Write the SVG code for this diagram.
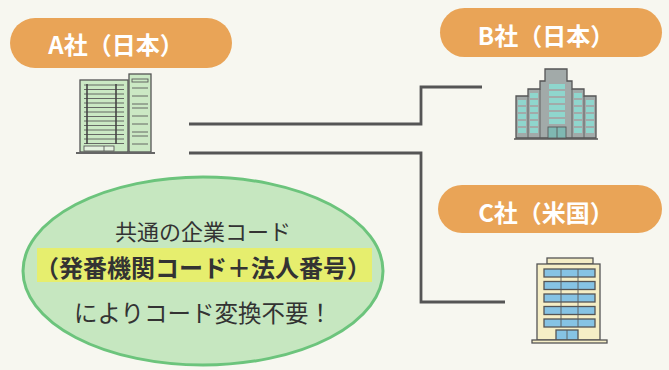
<svg xmlns="http://www.w3.org/2000/svg" width="669" height="370" viewBox="0 0 669 370">
  <style>
    .pill { fill: #e9a457; }
    .pill-label { font-family: "Noto Sans CJK JP", "Noto Sans", sans-serif; font-weight: bold; font-size: 24px; fill: #ffffff; text-anchor: middle; }
    .link { fill: none; stroke: #555555; stroke-width: 2.8; stroke-linejoin: miter; }
    .note { font-family: "Noto Sans CJK JP", "Noto Sans", sans-serif; fill: #333333; text-anchor: middle; }
    .edge { stroke: #555555; stroke-width: 1.3; }
    .thin { stroke: #5a5a5a; stroke-width: 0.9; }
  </style>
  <rect width="669" height="370" fill="#f7f7f0"/>

  <!-- connectors -->
  <g id="connectors">
    <polyline class="link" points="189,124 421,124 421,87 482,87"/>
    <polyline class="link" points="189,153 421,153 421,302 505,302"/>
  </g>

  <!-- company A (Japan) -->
  <g id="node-a">
    <rect class="pill" x="10" y="18" width="222" height="50" rx="25"/>
    <text class="pill-label" x="116" y="54">A社（日本）</text>
    <g id="building-a">
      <rect x="80" y="80" width="48" height="72" fill="#cbe9c4" class="edge"/>
      <g class="thin">
        <line x1="84" y1="85" x2="124" y2="85"/>
        <line x1="84" y1="89.5" x2="124" y2="89.5"/>
        <line x1="84" y1="94" x2="124" y2="94"/>
        <line x1="84" y1="98.5" x2="124" y2="98.5"/>
        <line x1="84" y1="103" x2="124" y2="103"/>
        <line x1="84" y1="107.5" x2="124" y2="107.5"/>
        <line x1="84" y1="112" x2="124" y2="112"/>
        <line x1="84" y1="116.5" x2="124" y2="116.5"/>
        <line x1="84" y1="121" x2="124" y2="121"/>
        <line x1="84" y1="125.5" x2="124" y2="125.5"/>
        <line x1="84" y1="130" x2="124" y2="130"/>
        <line x1="84" y1="134.5" x2="124" y2="134.5"/>
        <line x1="84" y1="139" x2="124" y2="139"/>
        <line x1="84" y1="143.5" x2="124" y2="143.5"/>
      </g>
      <line x1="87" y1="84" x2="87" y2="144" stroke="#444" stroke-width="1.6"/>
      <line x1="116" y1="84" x2="116" y2="144" stroke="#444" stroke-width="1.6"/>
      <rect x="84" y="146" width="30" height="5" fill="#e4f2df" class="thin"/>
      <line x1="104" y1="146" x2="104" y2="151" class="thin"/>
      <rect x="129" y="74" width="22" height="78" fill="#cbe9c4" class="edge"/>
      <g class="thin">
        <rect x="132" y="79" width="16" height="3" fill="none"/>
        <line x1="132" y1="88" x2="148" y2="88"/>
        <line x1="132" y1="96" x2="148" y2="96"/>
        <line x1="132" y1="104" x2="148" y2="104"/>
        <line x1="132" y1="108" x2="148" y2="108"/>
        <line x1="132" y1="116" x2="148" y2="116"/>
        <line x1="132" y1="124" x2="148" y2="124"/>
        <line x1="132" y1="132" x2="148" y2="132"/>
        <line x1="132" y1="136" x2="148" y2="136"/>
        <line x1="132" y1="144" x2="148" y2="144"/>
      </g>
      <line x1="76" y1="153" x2="155" y2="153" stroke="#666" stroke-width="2"/>
    </g>
  </g>

  <!-- company B (Japan) -->
  <g id="node-b">
    <rect class="pill" x="440" y="8" width="222" height="49" rx="24.5"/>
    <text class="pill-label" x="546" y="45">B社（日本）</text>
    <g id="building-b">
      <polygon points="516,138 516,96 528,96 528,89 540,89 540,81 545,81 545,69 567,69 567,81 572,81 572,89 584,89 584,96 596,96 596,138" fill="#a2aaa9" class="edge"/>
      <line x1="540" y1="89" x2="540" y2="138" class="thin"/>
      <line x1="572" y1="89" x2="572" y2="138" class="thin"/>
      <line x1="528" y1="96" x2="528" y2="138" class="thin"/>
      <line x1="584" y1="96" x2="584" y2="138" class="thin"/>
      <g fill="#8fd6cd">
        <!-- centre column -->
        <rect x="549" y="84" width="16" height="5"/>
        <rect x="549" y="91" width="16" height="5"/>
        <rect x="549" y="98" width="16" height="5"/>
        <rect x="549" y="105" width="16" height="5"/>
        <rect x="549" y="112" width="16" height="5"/>
        <rect x="549" y="119" width="16" height="5"/>
        <!-- inner wings -->
        <rect x="530" y="93" width="8" height="5"/>
        <rect x="530" y="100" width="8" height="5"/>
        <rect x="530" y="107" width="8" height="5"/>
        <rect x="530" y="114" width="8" height="5"/>
        <rect x="530" y="121" width="8" height="5"/>
        <rect x="530" y="128" width="8" height="5"/>
        <rect x="574" y="93" width="8" height="5"/>
        <rect x="574" y="100" width="8" height="5"/>
        <rect x="574" y="107" width="8" height="5"/>
        <rect x="574" y="114" width="8" height="5"/>
        <rect x="574" y="121" width="8" height="5"/>
        <rect x="574" y="128" width="8" height="5"/>
        <!-- outer wings -->
        <rect x="518" y="100" width="8" height="5"/>
        <rect x="518" y="107" width="8" height="5"/>
        <rect x="518" y="114" width="8" height="5"/>
        <rect x="518" y="121" width="8" height="5"/>
        <rect x="518" y="128" width="8" height="5"/>
        <rect x="586" y="100" width="8" height="5"/>
        <rect x="586" y="107" width="8" height="5"/>
        <rect x="586" y="114" width="8" height="5"/>
        <rect x="586" y="121" width="8" height="5"/>
        <rect x="586" y="128" width="8" height="5"/>
      </g>
      <rect x="548" y="127" width="18" height="11" fill="#7fb8b2" class="thin"/>
      <line x1="557" y1="127" x2="557" y2="138" class="thin"/>
      <line x1="514" y1="139" x2="598" y2="139" stroke="#555" stroke-width="1.6"/>
    </g>
  </g>

  <!-- company C (USA) -->
  <g id="node-c">
    <rect class="pill" x="438" y="185" width="224" height="48" rx="24"/>
    <text class="pill-label" x="546" y="222">C社（米国）</text>
    <g id="building-c">
      <rect x="547" y="258" width="46" height="6" fill="#f3ecc4" class="edge"/>
      <rect x="537" y="264" width="63" height="76" fill="#f5eec6" class="edge"/>
      <g fill="#86c3e4" class="edge">
        <rect x="544" y="269" width="51" height="8"/>
        <rect x="544" y="281.5" width="51" height="8"/>
        <rect x="544" y="294" width="51" height="8"/>
        <rect x="544" y="306.5" width="51" height="8"/>
        <rect x="544" y="319" width="51" height="8"/>
      </g>
      <g class="thin">
        <line x1="561" y1="269" x2="561" y2="327"/>
        <line x1="578" y1="269" x2="578" y2="327"/>
      </g>
      <rect x="556" y="330" width="22" height="10" fill="#86c3e4" class="edge"/>
      <line x1="567" y1="330" x2="567" y2="340" class="thin"/>
      <rect x="532" y="340" width="75" height="3" fill="#f5eec6" class="edge"/>
    </g>
  </g>

  <!-- shared code note -->
  <g id="note">
    <ellipse cx="203" cy="271" rx="180" ry="94" fill="#c6e7c0" stroke="#6cc47c" stroke-width="3"/>
    <rect x="37" y="248" width="335" height="34" fill="#e6ee6e"/>
    <text class="note" x="203" y="240" font-size="22">共通の企業コード</text>
    <text class="note" x="203" y="277" font-size="24" font-weight="bold">（発番機関コード＋法人番号）</text>
    <text class="note" x="203" y="322" font-size="23.5">によりコード変換不要！</text>
  </g>
</svg>
